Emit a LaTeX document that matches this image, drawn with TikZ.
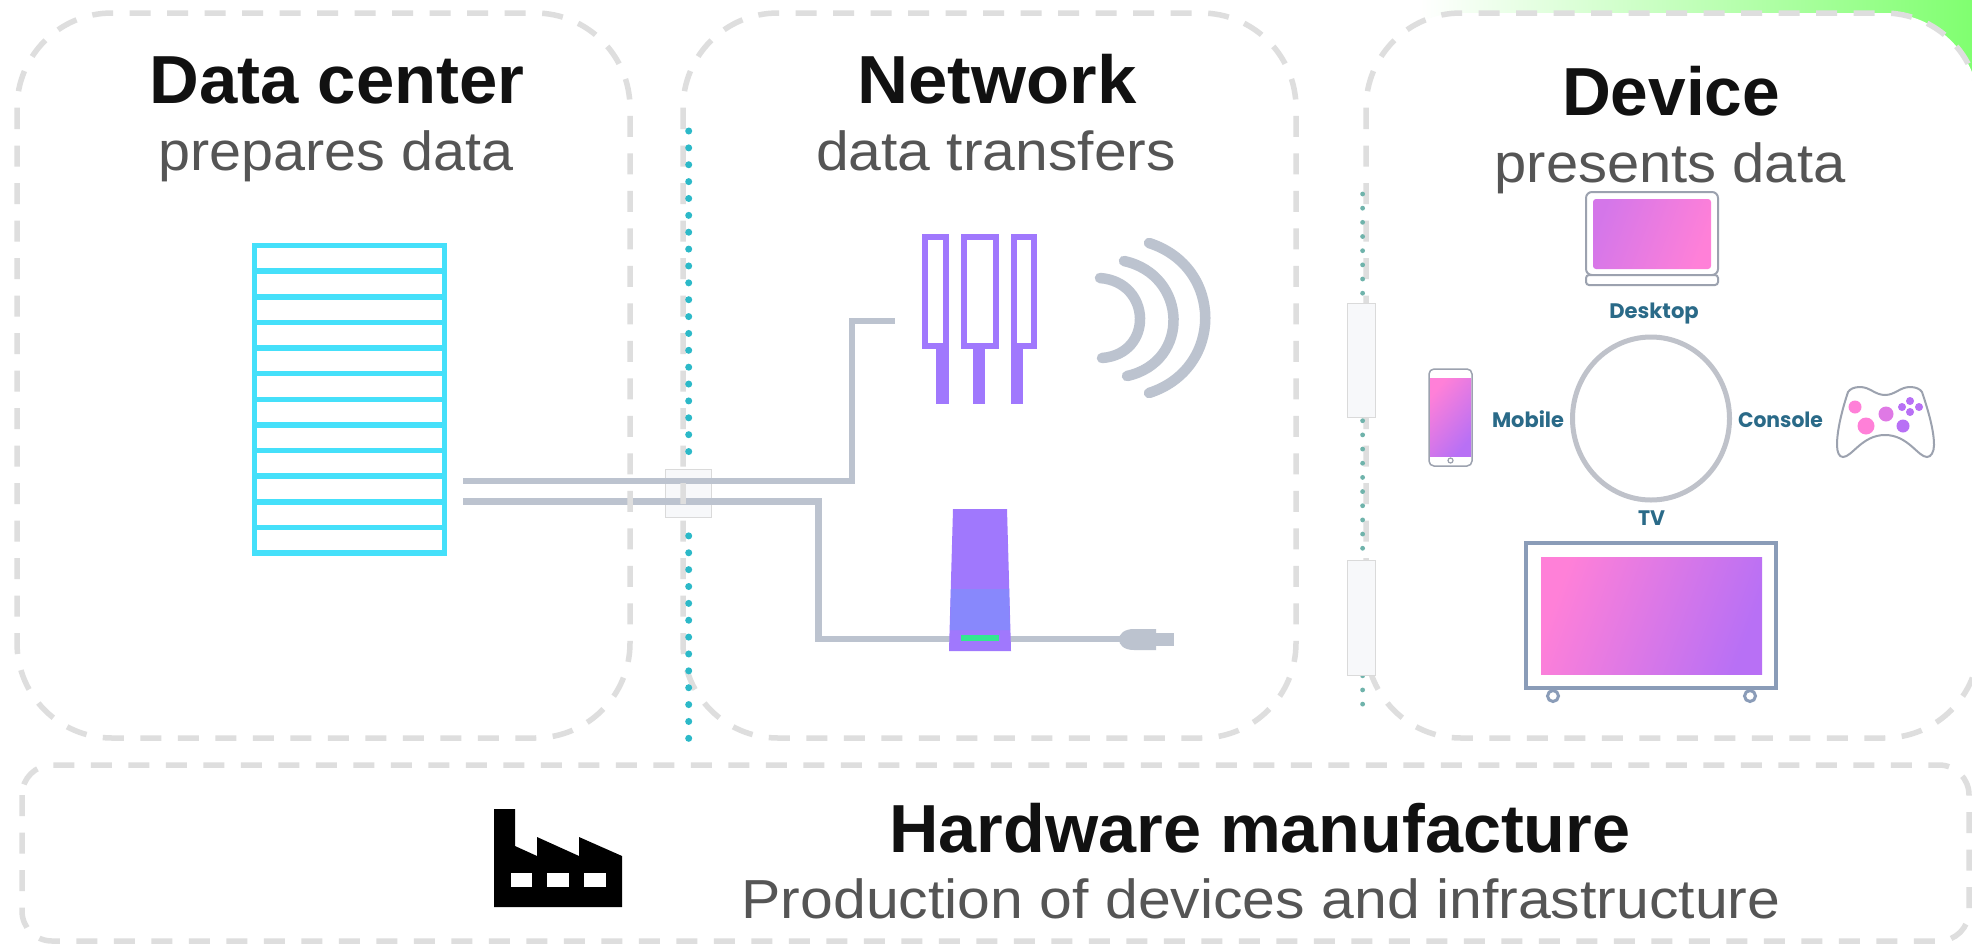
\documentclass[tikz,border=0pt]{standalone}
\usepackage{fontspec}
\usepackage{graphicx}
\usetikzlibrary{calc,shapes.geometric}
\setmainfont{Liberation Sans}
\newfontfamily\headf{Liberation Sans Bold}
\newfontfamily\iconf{Poppins}
\newcommand{\fit}[2]{\resizebox{#1pt}{\height}{#2}}
\definecolor{dashgrey}{HTML}{DEDEDE}
\definecolor{rackc}{HTML}{45E0FA}
\definecolor{cablec}{HTML}{BCC3CF}
\definecolor{ringc}{HTML}{BFC2CA}
\definecolor{purp}{HTML}{A078FD}
\definecolor{purpb}{HTML}{8888FC}
\definecolor{greenled}{HTML}{33E890}
\definecolor{tealdot}{HTML}{2CB9C8}
\definecolor{sagedot}{HTML}{6FB3AB}
\definecolor{subc}{HTML}{555555}
\definecolor{headc}{HTML}{111111}
\definecolor{iconc}{HTML}{2A6A88}
\definecolor{pinkc}{HTML}{FF80D8}
\definecolor{violc}{HTML}{B870F5}
\definecolor{devline}{HTML}{9CA2AF}
\definecolor{tvline}{HTML}{8A9CB8}
\definecolor{limec}{HTML}{80FF70}
\definecolor{splicef}{HTML}{F7F8FA}
\definecolor{splicel}{HTML}{DADADA}
\tikzset{
  zone/.style={draw=dashgrey,line width=5.5pt,dash pattern=on 21pt off 16.5pt,rounded corners=95pt},
  head/.style={inner sep=0pt,anchor=base,text=headc,font=\headf\fontsize{68}{68}\selectfont},
  sub/.style={inner sep=0pt,anchor=base,text=subc,font=\fontsize{55}{55}\selectfont},
  iconlabel/.style={inner sep=0pt,anchor=base,text=iconc,font=\iconf\bfseries\fontsize{21}{21}\selectfont},
  cable/.style={draw=cablec,line width=6.5pt},
  wave/.style={draw=cablec,line width=10.5pt,line cap=round},
  antenna/.style={draw=purp,line width=6pt,fill=white},
  stem/.style={fill=purp},
  splice/.style={draw=splicel,line width=1pt,fill=splicef},
  devframe/.style={draw=devline,line width=2pt,fill=white},
  rackbar/.style={draw=rackc,line width=5.5pt},
}
\begin{document}
\begin{tikzpicture}[x=1pt,y=-1pt]
\useasboundingbox (0,0) rectangle (1972,943);
\fill[white] (0,0) rectangle (1972,943);
% corner glow
\shade[left color=white,right color=limec] (1420,0) rectangle (1972,110);
\fill[white,rounded corners=95pt] (1366,13) rectangle (1979,738);

% splice boxes and cables
\node[splice,minimum width=46.5pt,minimum height=48pt,inner sep=0pt] (splice) at (688.7,493) {};
\coordinate (c1a) at (463,481);
\coordinate (c1b) at (852,481);
\coordinate (c1c) at (852,321);
\coordinate (c1d) at (895,321);
\coordinate (c2a) at (463,501.5);
\coordinate (c2b) at (818.5,501.5);
\coordinate (c2c) at (818.5,639);
\coordinate (c2d) at (1125,639);
\draw[cable] (c1a) -- (c1b) -- (c1c) -- (c1d);
\draw[cable] (c2a) -- (c2b) -- (c2c) -- (c2d);

% zones
\draw[zone] (17,13) rectangle (630,738);
\draw[zone] (683,13) rectangle (1296,738);
\draw[zone] (1366,13) rectangle (1979,738);
\draw[zone,rounded corners=30pt] (22,765) rectangle (1969,941);

% separators
\foreach \n in {0,...,36}{
  \pgfmathsetmacro{\yy}{131+16.87*\n}
  \ifdim\yy pt<465pt \fill[tealdot] (688.7,\yy) circle (3.5);\else\ifdim\yy pt>520pt \fill[tealdot] (688.7,\yy) circle (3.5);\fi\fi
}
\foreach \n in {0,...,36}{
  \pgfmathsetmacro{\yy}{194+14.17*\n}
  \fill[sagedot] (1362.6,\yy) circle (2.4);
}
\node[splice,minimum width=28pt,minimum height=114pt,inner sep=0pt] (sepa) at (1361,360) {};
\node[splice,minimum width=28pt,minimum height=115pt,inner sep=0pt] (sepb) at (1361,617.5) {};

% titles
\node[head] (t1) at (337,103.5) {\fit{375}{Data center}};
\node[sub] (s1) at (336,170) {\fit{355}{prepares data}};
\node[head] (t2) at (997,103.5) {\fit{279}{Network}};
\node[sub] (s2) at (996,170) {\fit{360}{data transfers}};
\node[head] (t3) at (1671,115) {\fit{218}{Device}};
\node[sub] (s3) at (1670,182) {\fit{351}{presents data}};
\node[head] (t4) at (1260,852) {\fit{741}{Hardware manufacture}};
\node[sub] (s4) at (1261,918) {\fit{1039}{Production of devices and infrastructure}};

% rack
\node[draw=rackc,line width=5.5pt,fill=white,minimum width=190pt,minimum height=307.5pt,inner sep=0pt,outer sep=0pt] (rack) at (349.5,399.25) {};
\foreach \n in {1,...,11}{
  \draw[rackbar] ($(rack.north west)+(0,25.625*\n)$) -- ($(rack.north east)+(0,25.625*\n)$);
}

% antennas
\fill[stem] (936.4,349) rectangle (949,404);
\fill[stem] (972.6,349) rectangle (985,404);
\fill[stem] (1010.5,349) rectangle (1023,404);
\draw[antenna] (925,237) rectangle (946,346);
\draw[antenna] (963.5,237) rectangle (996,346);
\draw[antenna] (1013.5,237) rectangle (1034,346);

% waves
\draw[wave] (1100,278) .. controls (1152,282) and (1154,354) .. (1102,358);
\draw[wave] (1124,261) .. controls (1188,275) and (1191,362) .. (1127,376);
\draw[wave] (1149,243) .. controls (1224,267) and (1224,369) .. (1149,393);

% router
\fill[purp] (953,509) -- (1007,509) -- (1011,651) -- (949,651) -- cycle;
\fill[purpb] (951,589) -- (1009,589) -- (1010,630) -- (950,630) -- cycle;
\fill[greenled] (961,635) rectangle (998.5,641);

% plug
\fill[cablec] (1156,633) rectangle (1174,646);
\fill[cablec] (1156,629) -- (1134,629) .. controls (1124,629) and (1119,634) .. (1119,639.5) .. controls (1119,645) and (1124,650) .. (1134,650) -- (1156,650) -- cycle;

% laptop
\draw[devframe,rounded corners=6pt] (1586,192) rectangle (1718,275);
\draw[devframe,rounded corners=3pt] (1586,275) rectangle (1718,285);
\shade[rounded corners=3pt,left color=violc!60!pinkc,right color=pinkc,shading angle=70] (1593,199) rectangle (1711,269);
\node[iconlabel] (ldesk) at (1654,318) {\fit{89.5}{Desktop}};

% ring
\node[draw=ringc,line width=5pt,ellipse,minimum width=157pt,minimum height=163pt,inner sep=0pt] (ring) at (1651,418.5) {};
\node[iconlabel] (lmob) at (1528,427) {\fit{72}{Mobile}};
\node[iconlabel] (lcon) at (1780.5,427) {\fit{85}{Console}};
\node[iconlabel] (ltv) at (1651.5,525) {\fit{27}{TV}};

% phone
\draw[devframe,rounded corners=5pt,line width=1.5pt] (1429,369) rectangle (1472,466);
\shade[left color=pinkc,right color=violc,shading angle=50] (1430,378) rectangle (1471,456);
\draw[devline,line width=1.2pt] (1450.5,460.5) circle (2.5);

% controller
\draw[devline,line width=2pt,fill=white] (1860,387) .. controls (1870,387) and (1875,395) .. (1885,395) .. controls (1895,395) and (1900,387) .. (1910,387) .. controls (1916,387) and (1920,389) .. (1922,392) .. controls (1928,410) and (1934,430) .. (1934,445) .. controls (1934,452) and (1931,457) .. (1927,457) .. controls (1918,457) and (1908,435) .. (1885,435) .. controls (1862,435) and (1852,457) .. (1843,457) .. controls (1839,457) and (1837,452) .. (1837,445) .. controls (1837,430) and (1842,410) .. (1848,392) .. controls (1850,389) and (1854,387) .. (1860,387) -- cycle;
\fill[pinkc] (1855,407) circle (6.5);
\fill[pinkc] (1866,426) circle (8.5);
\fill[pinkc!55!violc] (1886,414) circle (7.5);
\fill[violc] (1903,426) circle (6.5);
\fill[violc] (1902,407) circle (4);
\fill[violc] (1910,401) circle (4);
\fill[violc] (1919,407) circle (4);
\fill[violc] (1910,412) circle (4);

% tv
\shade[left color=pinkc,right color=violc,shading angle=70] (1541,557) rectangle (1762,674);
\draw[tvline,line width=4pt] (1526,543) rectangle (1776,688);
\draw[tvline,line width=3pt,fill=white] (1553,696) circle (5.5);
\draw[tvline,line width=3pt,fill=white] (1750,696) circle (5.5);

% factory
\fill[black] (494,809) -- (515,809) -- (515,846) -- (537,856) -- (537,837) -- (579,856) -- (579,837) -- (622,856) -- (622,907) -- (494,907) -- cycle;
\fill[white] (511,873) rectangle (532,887);
\fill[white] (547,873) rectangle (569,887);
\fill[white] (584,873) rectangle (606,887);
\end{tikzpicture}
\end{document}
